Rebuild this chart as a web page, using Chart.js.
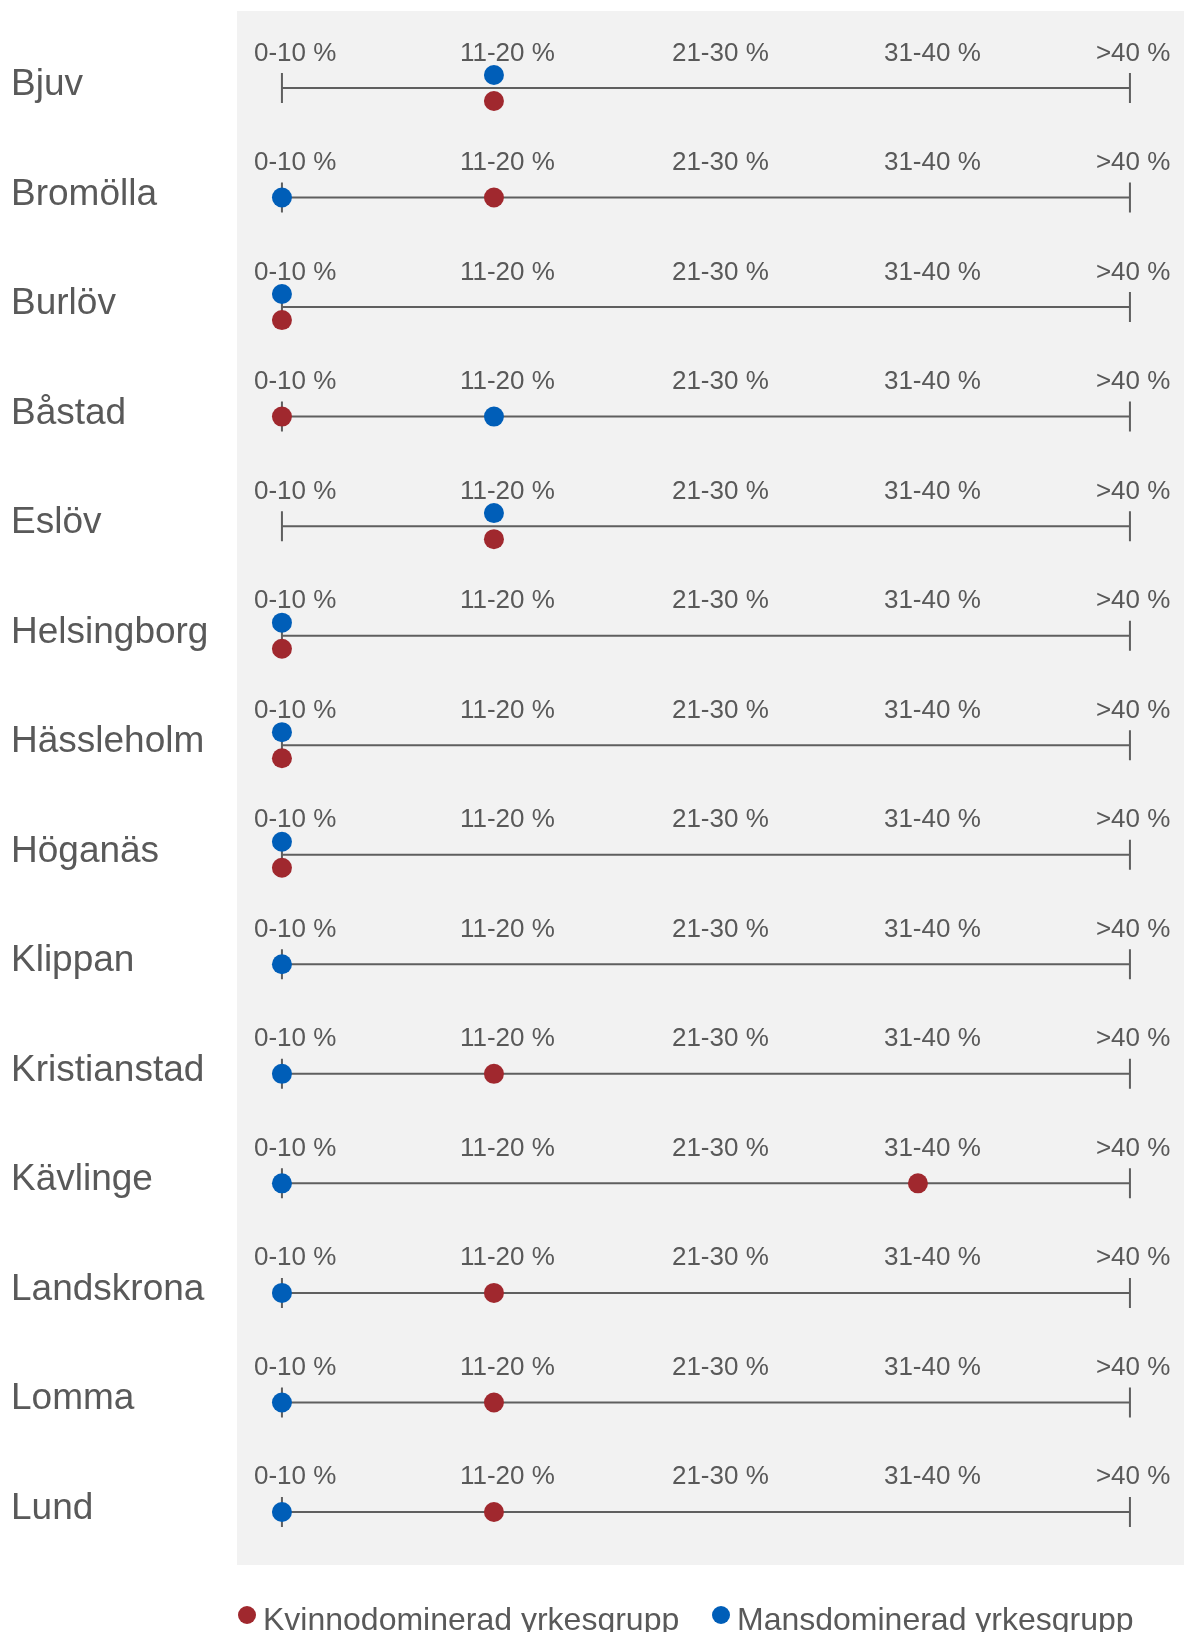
<!DOCTYPE html>
<html>
<head>
<meta charset="utf-8">
<script src="https://cdn.jsdelivr.net/npm/chart.js@4/dist/chart.umd.min.js"></script>
<style>
  html, body { margin: 0; padding: 0; background: #ffffff; overflow: hidden; }
  #c { display: block; }
</style>
</head>
<body>
<canvas id="c" width="1184" height="1632"></canvas>
<script>
// ---- Data ----
const municipalities = ['Bjuv','Bromölla','Burlöv','Båstad','Eslöv','Helsingborg','Hässleholm','Höganäs','Klippan','Kristianstad','Kävlinge','Landskrona','Lomma','Lund'];
const tickLabels = ['0-10 %','11-20 %','21-30 %','31-40 %','>40 %'];
// category index into tickLabels (0 = 0-10 %, 1 = 11-20 %, ...)
const kvinnoValues = [1, 1, 0, 0, 1, 0, 0, 0, null, 1, 3, 1, 1, 1];
const mansValues   = [1, 0, 0, 1, 1, 0, 0, 0, 0,    0, 0, 0, 0, 0];
const seriesNames = ['Kvinnodominerad yrkesgrupp', 'Mansdominerad yrkesgrupp'];

// ---- Styling ----
const RED = '#a0282e';
const BLUE = '#005eb8';
const TEXT = '#595959';
const LINE = '#5f5f5f';
const FONT = '"Liberation Sans", Arial, sans-serif';
const PANEL = '#f2f2f2';
const SPLIT = 0.119; // vertical split (in row units) when both dots share a value

function buildPoints(vals, other, dir) {
  const pts = [];
  vals.forEach((v, i) => {
    if (v === null || v === undefined) return;
    const same = other[i] === v;
    pts.push({ x: v, y: i + (same ? dir * SPLIT : 0) });
  });
  return pts;
}

const decor = {
  id: 'decor',
  beforeDraw(chart) {
    const { ctx, chartArea } = chart;
    ctx.save();
    ctx.fillStyle = PANEL;
    ctx.fillRect(chartArea.left, chartArea.top, chartArea.right - chartArea.left, chartArea.bottom - chartArea.top);
    ctx.restore();
  },
  beforeDatasetsDraw(chart) {
    const { ctx, scales } = chart;
    const xs = scales.x, ys = scales.y;
    const x0 = xs.getPixelForValue(0);
    const x1 = xs.getPixelForValue(tickLabels.length - 1);
    ctx.save();
    municipalities.forEach((name, i) => {
      const y = ys.getPixelForValue(i);
      ctx.strokeStyle = LINE;
      ctx.lineWidth = 2;
      ctx.beginPath();
      ctx.moveTo(x0, y); ctx.lineTo(x1, y);
      ctx.moveTo(x0, y - 15); ctx.lineTo(x0, y + 15);
      ctx.moveTo(x1, y - 15); ctx.lineTo(x1, y + 15);
      ctx.stroke();
      ctx.fillStyle = TEXT;
      ctx.font = '26px ' + FONT;
      ctx.textAlign = 'left';
      ctx.textBaseline = 'alphabetic';
      tickLabels.forEach((t, k) => {
        const px = xs.getPixelForValue(k);
        ctx.fillText(t, px - (k === 0 ? 28 : 34), y - 27.5);
      });
      ctx.font = '37px ' + FONT;
      ctx.fillText(name, 11, y + 7);
    });
    ctx.restore();
  },
  afterDraw(chart) {
    const { ctx } = chart;
    ctx.save();
    ctx.font = '32px ' + FONT;
    ctx.textBaseline = 'alphabetic';
    ctx.textAlign = 'left';
    const items = [
      { label: seriesNames[0], color: RED, x: 247 },
      { label: seriesNames[1], color: BLUE, x: 721 }
    ];
    items.forEach(it => {
      ctx.fillStyle = it.color;
      ctx.beginPath();
      ctx.arc(it.x, 1615, 9, 0, Math.PI * 2);
      ctx.fill();
      ctx.fillStyle = TEXT;
      ctx.fillText(it.label, it.x + 16, 1630);
    });
    ctx.restore();
  }
};

new Chart(document.getElementById('c'), {
  type: 'scatter',
  data: {
    datasets: [
      {
        label: seriesNames[0],
        data: buildPoints(kvinnoValues, mansValues, 1),
        backgroundColor: RED,
        borderWidth: 0,
        pointRadius: 10,
        pointHoverRadius: 10
      },
      {
        label: seriesNames[1],
        data: buildPoints(mansValues, kvinnoValues, -1),
        backgroundColor: BLUE,
        borderWidth: 0,
        pointRadius: 10,
        pointHoverRadius: 10
      }
    ]
  },
  options: {
    responsive: false,
    devicePixelRatio: 1,
    animation: false,
    layout: { autoPadding: false, padding: { left: 237, top: 11, right: 0, bottom: 67 } },
    scales: {
      x: { type: 'linear', min: -0.212, max: 4.255, display: false },
      y: { type: 'linear', min: -0.703, max: 13.484, reverse: true, display: false }
    },
    plugins: {
      legend: { display: false },
      tooltip: { enabled: false }
    },
    events: []
  },
  plugins: [decor]
});
</script>
</body>
</html>
